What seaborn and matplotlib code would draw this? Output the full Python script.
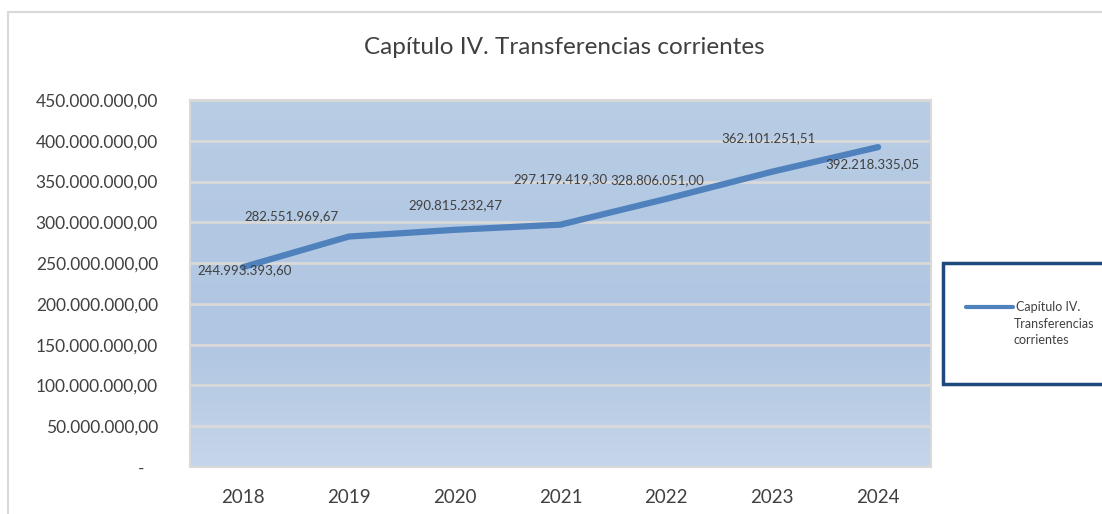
import numpy as np
import pandas as pd
import matplotlib
matplotlib.use("Agg")
import matplotlib.pyplot as plt
from matplotlib.patches import Rectangle
from matplotlib.lines import Line2D
from matplotlib.colors import LinearSegmentedColormap
import seaborn as sns

years = ["2018", "2019", "2020", "2021", "2022", "2023", "2024"]
values = [244993393.60, 282551969.67, 290815232.47, 297179419.30,
          328806051.00, 362101251.51, 392218335.05]
value_labels = ["244.993.393,60", "282.551.969,67", "290.815.232,47", "297.179.419,30",
                "328.806.051,00", "362.101.251,51", "392.218.335,05"]
y_ticks = [0, 50e6, 100e6, 150e6, 200e6, 250e6, 300e6, 350e6, 400e6, 450e6]
y_tick_labels = ["-   ", "50.000.000,00", "100.000.000,00", "150.000.000,00", "200.000.000,00",
                 "250.000.000,00", "300.000.000,00", "350.000.000,00", "400.000.000,00",
                 "450.000.000,00"]
series_name = "Capítulo IV. Transferencias corrientes"
legend_lines = ["Capítulo IV.", "Transferencias", "corrientes"]

sns.set_style("white")
plt.rcParams['font.family'] = ['Lato', 'DejaVu Sans']

df = pd.DataFrame({"year": years, "value": values})

fig = plt.figure(figsize=(11.02, 5.14), dpi=100)
W, H = 1102, 514

# outer chart border
fig.patches.append(Rectangle((8 / W, -0.1), 1.2, 1 - 12 / H + 0.1, transform=fig.transFigure,
                             fill=False, edgecolor="#d9d9d9", linewidth=1.5))

ax = fig.add_axes([190 / W, 1 - 467 / H, (931 - 190) / W, (467 - 100) / H])

# gradient background
grad = np.linspace(0, 1, 256).reshape(-1, 1)
cmap = LinearSegmentedColormap.from_list("bg", ["#b9cde5", "#b3c8e3", "#b0c6e2", "#c6d6ea"])
ax.imshow(grad, extent=[0, 1, 0, 1], transform=ax.transAxes, aspect="auto",
          cmap=cmap, zorder=0, origin="upper")

sns.lineplot(data=df, x="year", y="value", ax=ax, color="#4f81bd", linewidth=4.5,
             label=series_name, legend=False, zorder=3, solid_capstyle="round")

ax.set_xlim(-0.5, 6.5)
ax.set_ylim(0, 450e6)
ax.set_yticks(y_ticks)
ax.set_yticklabels(y_tick_labels)
ax.grid(axis="y", color="#d9d9d9", linewidth=2, zorder=1)
for g in ax.get_ygridlines():
    g.set_zorder(1)
ax.set_xlabel("")
ax.set_ylabel("")
ax.tick_params(axis="y", length=0, pad=23, labelsize=12.5, labelcolor="#404040")
ax.tick_params(axis="x", length=0, pad=16, labelsize=13.5, labelcolor="#404040")
for s in ax.spines.values():
    s.set_color("#d9d9d9")
    s.set_linewidth(1.5)

offsets = [(2, -3), (-57, 20), (1, 25), (0, 45), (-9, 19), (-4, 34), (-6, -17)]
for i, (lab, off) in enumerate(zip(value_labels, offsets)):
    ax.annotate(lab, (i, values[i]), xytext=off, textcoords="offset pixels",
                ha="center", va="center", fontsize=9.5, color="#404040", zorder=5)

fig.text(564 / W, 1 - 48 / H, series_name, ha="center", va="center",
         fontsize=17.5, color="#404040")

# legend
fig.patches.append(Rectangle((943 / W, 1 - 384 / H), 0.3, (384 - 263) / H,
                             transform=fig.transFigure, fill=True, facecolor="white",
                             edgecolor="#1f497d", linewidth=2.5))
handle = Line2D([], [], color="#4f81bd", linewidth=3)
leg = fig.legend([handle], [legend_lines[0]], loc="center left",
                 bbox_to_anchor=(960 / W, 1 - 307 / H), frameon=False, fontsize=9,
                 handlelength=3.7, handletextpad=0.3, labelcolor="#404040", borderpad=0)
fig.text(1014 / W, 1 - 324 / H, legend_lines[1], ha="left", va="center",
         fontsize=9, color="#404040")
fig.text(1014 / W, 1 - 340 / H, legend_lines[2], ha="left", va="center",
         fontsize=9, color="#404040")

fig.savefig("out.png", dpi=100)
